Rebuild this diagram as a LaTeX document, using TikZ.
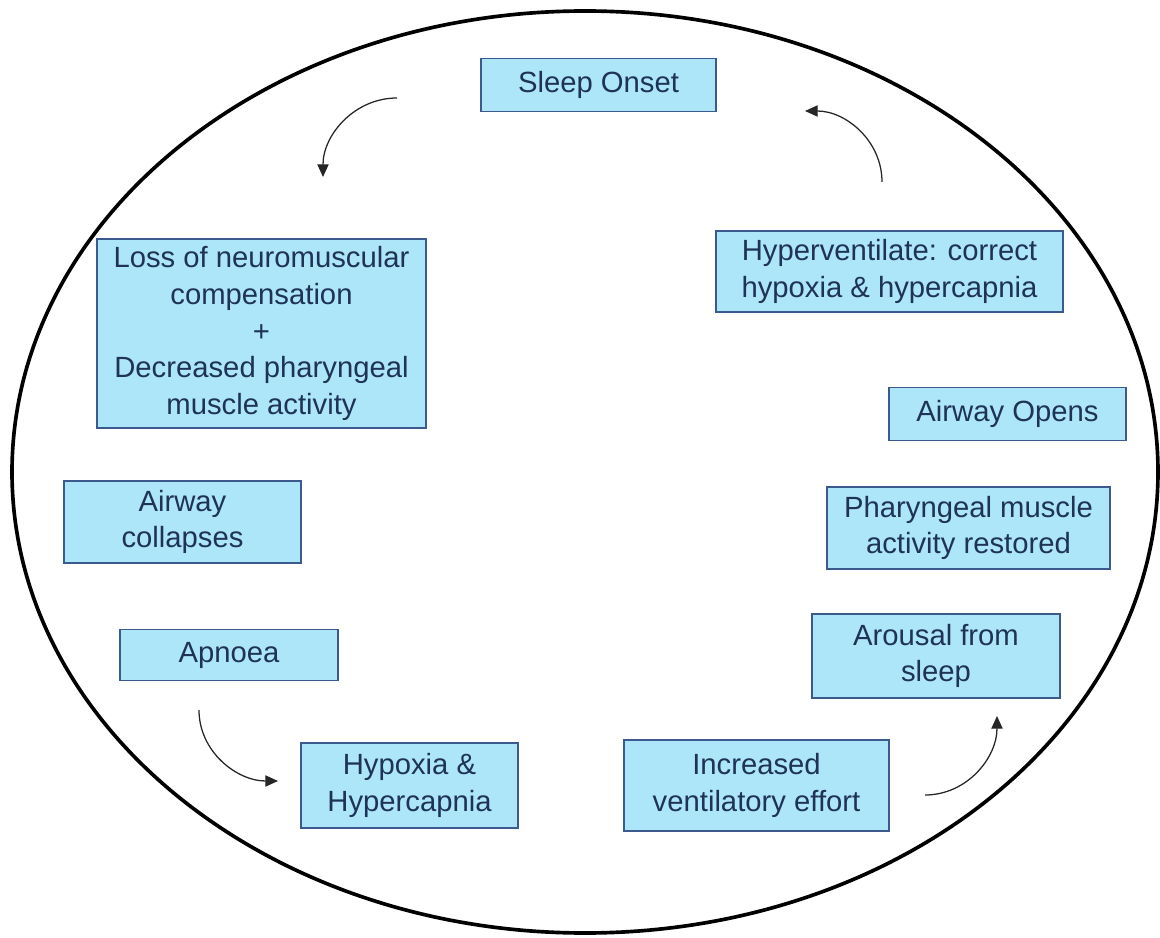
\documentclass[tikz,border=0pt]{standalone}
\usepackage{fontspec}
\setmainfont{Liberation Sans}
\usepackage{tikz}
\usetikzlibrary{arrows.meta,positioning,shapes.geometric}
\definecolor{skyfill}{HTML}{ADE6F9}
\definecolor{skyedge}{HTML}{3D5A8E}
\definecolor{navytext}{HTML}{1E3357}
\tikzset{
  stagebox/.style={
    rectangle, draw=skyedge, fill=skyfill, line width=0.9pt,
    minimum width=#1, align=center, text=navytext,
    font=\fontsize{20.8}{26}\selectfont,
    inner sep=2pt
  },
  stagebox/.default=5.9cm,
  cyclearrow/.style={
    -{Triangle[length=9pt,width=8pt]}, line width=0.9pt, color=black!85
  },
  cycleline/.style={
    draw=black, line width=2.6pt
  },
}

\begin{document}
\begin{tikzpicture}[x=0.025cm, y=-0.025cm]
\useasboundingbox (0,0) rectangle (1160,938);

% outer loop
\draw[cycleline] (585,472) ellipse [x radius=573, y radius=461];

% stages round the cycle
\node[stagebox=5.875cm, minimum height=1.325cm] (onset) at (598.5,85) {Sleep Onset};
\node[stagebox=8.225cm, minimum height=4.725cm] (loss) at (261.5,333.5)
  {Loss of neuromuscular\\compensation\\+\\Decreased pharyngeal\\muscle activity};
\node[stagebox=5.925cm, minimum height=2.05cm] (collapse) at (182.5,522) {Airway\\collapses};
\node[stagebox=5.45cm, minimum height=1.275cm] (apnoea) at (229,655) {Apnoea};
\node[stagebox=5.425cm, minimum height=2.125cm] (hypoxia) at (409.5,785.5) {Hypoxia \&\\Hypercapnia};
\node[stagebox=6.625cm, minimum height=2.275cm] (effort) at (756.5,785.5) {Increased\\ventilatory effort};
\node[stagebox=6.2cm, minimum height=2.1cm] (arousal) at (936,656) {Arousal from\\sleep};
\node[stagebox=7.075cm, minimum height=2.05cm] (restored) at (968.5,528) {Pharyngeal muscle\\activity restored};
\node[stagebox=5.925cm, minimum height=1.325cm] (opens) at (1007.5,414) {Airway Opens};
\node[stagebox=8.675cm, minimum height=2.025cm] (hypervent) at (889.5,271.5) {Hyperventilate: correct\\hypoxia \& hypercapnia};

% curved arrows
\coordinate (tlA) at (397,98);
\coordinate (tlB) at (323,177);
\coordinate (trA) at (882,182);
\coordinate (trB) at (805,111);
\coordinate (blA) at (199,710);
\coordinate (blB) at (278,781);
\coordinate (brA) at (925,795);
\coordinate (brB) at (997,716);

\draw[cyclearrow] (tlA) to[out=180, in=90] (tlB);
\draw[cyclearrow] (trA) to[out=90, in=0] (trB);
\draw[cyclearrow] (blA) to[out=-90, in=180] (blB);
\draw[cyclearrow] (brA) to[out=0, in=-90] (brB);

\end{tikzpicture}
\end{document}
